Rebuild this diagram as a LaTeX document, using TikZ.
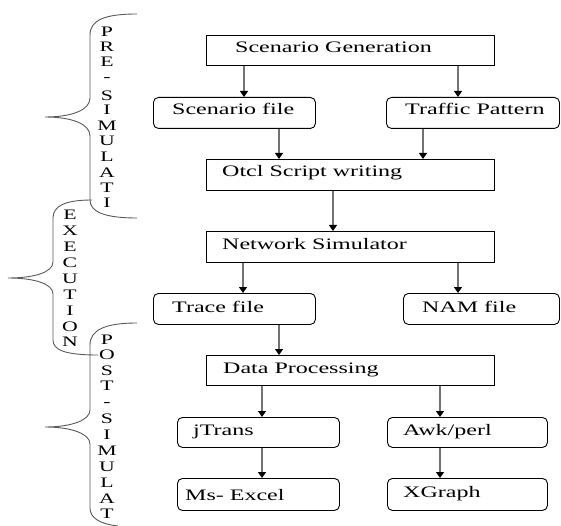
\documentclass[tikz,border=0pt]{standalone}
\usepackage{fontspec}
\setmainfont{Liberation Serif}[FakeStretch=1.5]
\usetikzlibrary{arrows.meta}
\begin{document}
\begin{tikzpicture}[x=1pt,y=-1pt,
  box/.style={draw=black,line width=0.9pt,inner sep=0pt,anchor=north west},
  rbox/.style={box,rounded corners=5pt},
  lbl/.style={anchor=base west,inner sep=0pt,font=\fontsize{16}{18}\selectfont},
  vl/.style={inner sep=0pt,font=\fontsize{14.5}{16}\selectfont},
  arr/.style={draw=black!55,line width=1.3pt,-{Triangle[length=6pt,width=8pt,color=black]}},
  brace/.style={draw=black!65,line width=0.9pt}]
\useasboundingbox (0,0) rectangle (561,526);
% boxes
\node[box,minimum width=288,minimum height=30] (sg) at (206,35) {};
\node[rbox,minimum width=162,minimum height=31] (sf) at (153,97) {};
\node[rbox,minimum width=173,minimum height=31] (tp) at (386,97) {};
\node[box,minimum width=288,minimum height=31] (ot) at (206,159) {};
\node[box,minimum width=288,minimum height=31] (ns) at (206,231) {};
\node[rbox,minimum width=162,minimum height=31] (tf) at (153,293) {};
\node[rbox,minimum width=156,minimum height=31] (nam) at (403,293) {};
\node[box,minimum width=288,minimum height=30] (dp) at (206,355) {};
\node[rbox,minimum width=162,minimum height=30] (jt) at (177,417) {};
\node[rbox,minimum width=160,minimum height=30] (aw) at (387,417) {};
\node[rbox,minimum width=162,minimum height=32] (ex) at (177,478) {};
\node[rbox,minimum width=160,minimum height=32] (xg) at (387,478) {};
% labels
\node[lbl] (sgt) at (235,53) {Scenario Generation};
\node[lbl] (sft) at (172,115) {Scenario file};
\node[lbl] (tpt) at (405,115) {Traffic Pattern};
\node[lbl] (ott) at (222,177) {Otcl Script writing};
\node[lbl] (nst) at (222,249) {Network Simulator};
\node[lbl] (tft) at (172,312) {Trace file};
\node[lbl] (namt) at (422,312) {NAM file};
\node[lbl] (dpt) at (223,373) {Data Processing};
\node[lbl] (jtt) at (193,435) {jTrans};
\node[lbl] (awt) at (403,435) {Awk/perl};
\node[lbl] (ext) at (185,500) {Ms- Excel};
\node[lbl] (xgt) at (403,497) {XGraph};
% arrows
\draw[arr] (244,0 |- sg.south) -- (244,0 |- sf.north);
\draw[arr] (458,0 |- sg.south) -- (458,0 |- tp.north);
\draw[arr] (279,0 |- sf.south) -- (279,0 |- ot.north);
\draw[arr] (423,0 |- tp.south) -- (423,0 |- ot.north);
\draw[arr] (333,0 |- ot.south) -- (333,0 |- ns.north);
\draw[arr] (243,0 |- ns.south) -- (243,0 |- tf.north);
\draw[arr] (458,0 |- ns.south) -- (458,0 |- nam.north);
\draw[arr] (279,0 |- tf.south) -- (279,0 |- dp.north);
\draw[arr] (262,0 |- dp.south) -- (262,0 |- jt.north);
\draw[arr] (440,0 |- dp.south) -- (440,0 |- aw.north);
\draw[arr] (262,0 |- jt.south) -- (262,0 |- ex.north);
\draw[arr] (440,0 |- aw.south) -- (440,0 |- xg.north);
% braces
\draw[brace] (137,14) .. controls (105,14) and (90,20) .. (90,35) -- (90,98)
  .. controls (90,110) and (72,117) .. (45,117)
  .. controls (72,117) and (90,124) .. (90,136) -- (90,200)
  .. controls (90,212) and (105,218) .. (137,218);
\draw[brace] (92,200) .. controls (65,200) and (53,206) .. (53,218) -- (53,262)
  .. controls (53,272) and (35,278) .. (8,278)
  .. controls (35,278) and (53,284) .. (53,294) -- (53,340)
  .. controls (53,350) and (65,355) .. (98,355);
\draw[brace] (137,323) .. controls (105,323) and (90,330) .. (90,345) -- (90,410)
  .. controls (90,420) and (72,427) .. (45,427)
  .. controls (72,427) and (90,434) .. (90,444) -- (90,508)
  .. controls (90,518) and (100,524) .. (118,526);
% vertical letters
\foreach \l/\y [count=\i] in {P/32,R/47,E/62,-/80,S/96,I/110,M/126,U/141,L/157,A/173,T/188,I/203}
  \node[vl] (pre\i) at (107,\y) {\l};
\foreach \l [count=\i from 0] in {E,X,E,C,U,T,I,O,N}
  \node[vl] (exe\i) at (70,{215+15.9*\i}) {\l};
\foreach \l/\y [count=\i] in {P/340,O/355,S/371,T/386,-/405,S/419,I/435,M/451,U/467,L/483,A/499,T/514}
  \node[vl] (post\i) at (107,\y) {\l};
\end{tikzpicture}
\end{document}
